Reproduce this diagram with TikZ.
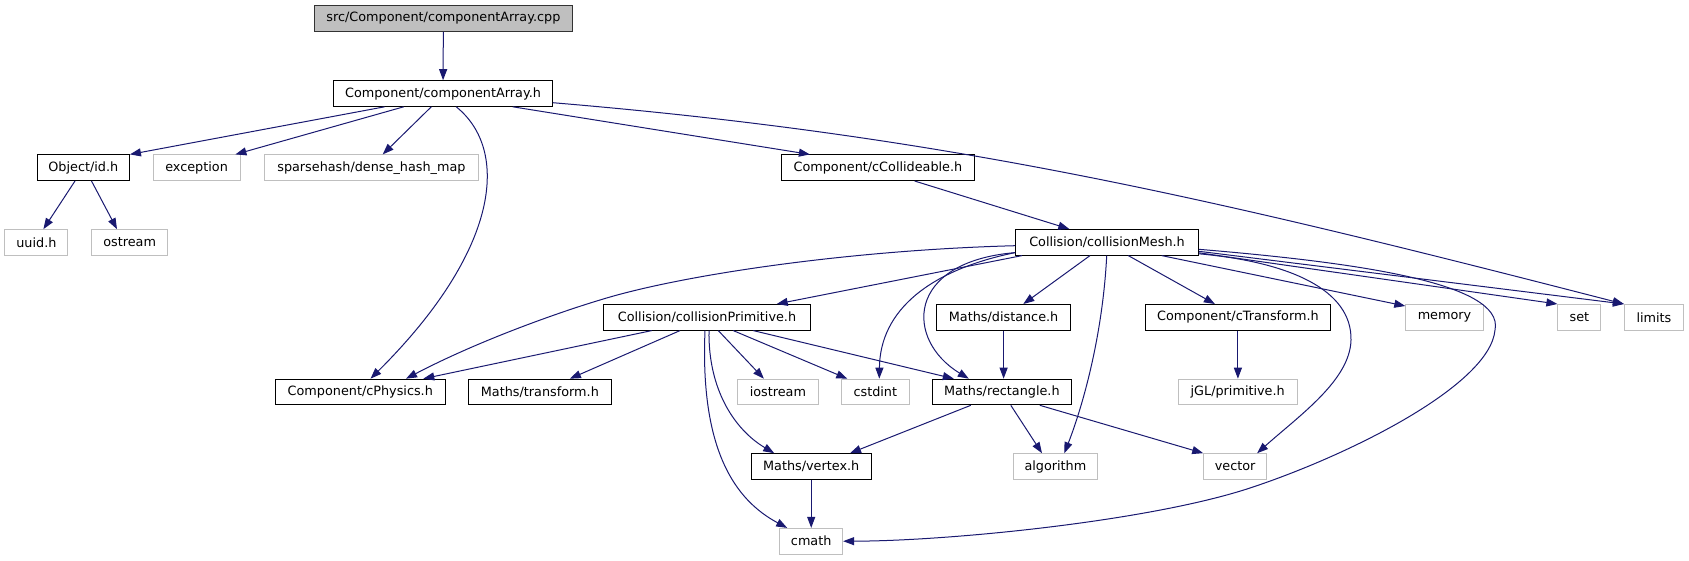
\documentclass[tikz,border=0pt]{standalone}
\usepackage{fontspec}
\setmainfont{DejaVu Sans}
\usepackage{xcolor}
\usetikzlibrary{arrows.meta}
\definecolor{edgeblue}{HTML}{191970}
\definecolor{greyline}{HTML}{BFBFBF}

\begin{document}
\begin{tikzpicture}[x=1pt, y=-1pt,
  every node/.style={font=\fontsize{12.8}{15}\selectfont, minimum height=25.6pt, inner sep=0pt, line width=1pt},
  root/.style={draw=black!80, fill=greyline, minimum width=#1},
  hdr/.style={draw=black, fill=white, minimum width=#1},
  sys/.style={draw=greyline, fill=white, minimum width=#1},
  dep/.style={draw=edgeblue, line width=1pt, -{Triangle[length=11pt, width=8pt]}}]
\useasboundingbox (0,0) rectangle (1689,560);
% Source file and its header
\node[root=257.5] (src) at (443.4,18.5) {src/Component/componentArray.cpp};
\node[hdr=218.5] (carr) at (443,93.5) {Component/componentArray.h};
% Second row
\node[hdr=92.3] (id) at (83.3,167.7) {Object/id.h};
\node[sys=87] (exc) at (196.6,167.7) {exception};
\node[sys=214] (sparse) at (371.4,167.7) {sparsehash/dense\_hash\_map};
\node[hdr=193.7] (ccoll) at (877.9,167.7) {Component/cCollideable.h};
% Third row
\node[sys=63] (uuid) at (36.4,242.5) {uuid.h};
\node[sys=76.4] (ostream) at (129.7,242.5) {ostream};
\node[hdr=182.7] (cmesh) at (1107,242.3) {Collision/collisionMesh.h};
% Fourth row
\node[hdr=207] (cprim) at (707,317.3) {Collision/collisionPrimitive.h};
\node[hdr=134] (dist) at (1003.6,317.3) {Maths/distance.h};
\node[hdr=185.7] (ctrans) at (1237.9,317.3) {Component/cTransform.h};
\node[sys=77.4] (memory) at (1444.5,317.3) {memory};
\node[sys=43] (set) at (1579.4,317.3) {set};
\node[sys=59] (limits) at (1653.9,317.3) {limits};
% Fifth row
\node[hdr=169.7] (cphys) at (360.3,392) {Component/cPhysics.h};
\node[hdr=142.3] (transform) at (539.9,392) {Maths/transform.h};
\node[sys=80.2] (iostream) at (777.9,392) {iostream};
\node[sys=67.4] (cstdint) at (875.3,392) {cstdint};
\node[hdr=138.5] (rect) at (1001.8,392) {Maths/rectangle.h};
\node[sys=118.6] (jgl) at (1237.7,392) {jGL/primitive.h};
% Bottom rows
\node[hdr=120.4] (vertex) at (811.2,466.5) {Maths/vertex.h};
\node[sys=84.8] (algorithm) at (1055.4,466.5) {algorithm};
\node[sys=62.8] (vector) at (1235.1,466.5) {vector};
\node[sys=62.8] (cmath) at (811.2,541.2) {cmath};
% Includes of componentArray
\draw[dep] (src) -- (carr);
\draw[dep] ([xshift=-58.4]carr.south) -- (id.north east);
\draw[dep] ([xshift=-39.3]carr.south) -- ([xshift=38.8]exc.north);
\draw[dep] ([xshift=-11.7]carr.south) -- ([xshift=11.3]sparse.north);
\draw[dep] ([xshift=13.2]carr.south) .. controls (510,150) and (500,250) .. ([xshift=10.2]cphys.north);
\draw[dep] ([xshift=69.8]carr.south) -- ([xshift=-68]ccoll.north);
\draw[dep] ([yshift=-9.2]carr.east) .. controls (952,136) and (1220,200) .. (limits.north west);
\draw[dep] ([xshift=-8.3]id.south) -- ([xshift=7]uuid.north);
\draw[dep] ([xshift=8.2]id.south) -- ([xshift=-12.7]ostream.north);
\draw[dep] ([xshift=36.7]ccoll.south) -- ([xshift=-37.7]cmesh.north);
% Includes of collisionMesh
\draw[dep] ([yshift=-3.4]cmesh.west) .. controls (850,250) and (680,275) .. (600,300)
  .. controls (560,312) and (480,340) .. ([xshift=45.7]cphys.north);
\draw[dep] ([xshift=-85]cmesh.south) -- ([xshift=69.7]cprim.north);
\draw[dep] ([yshift=3]cmesh.south west) .. controls (930,270) and (880,310) .. ([xshift=4]cstdint.north);
\draw[dep] ([yshift=3]cmesh.south west) .. controls (905,262) and (905,340) .. ([xshift=-33]rect.north);
\draw[dep] ([xshift=-17]cmesh.south) -- ([xshift=19.7]dist.north);
\draw[dep] ([xshift=-0.3]cmesh.south) .. controls (1103,330) and (1085,400) .. ([xshift=9]algorithm.north);
\draw[dep] ([xshift=21.3]cmesh.south) -- ([xshift=-23]ctrans.north);
\draw[dep] ([xshift=54.7]cmesh.south) -- ([yshift=-2]memory.north west);
\draw[dep] ([yshift=-10.5]cmesh.east) -- (set.north west);
\draw[dep] ([yshift=-9]cmesh.east) -- (limits.north west);
\draw[dep] ([yshift=-11.5]cmesh.east) .. controls (1290,262) and (1352,290) .. (1351,340)
  .. controls (1350,380) and (1300,415) .. ([xshift=22]vector.north);
\draw[dep] ([yshift=-7]cmesh.east) .. controls (1350,262) and (1505,282) .. (1495,330)
  .. controls (1490,385) and (1350,455) .. (1250,488)
  .. controls (1150,521) and (950,541) .. (cmath.east);
% Includes of collisionPrimitive
\draw[dep] ([xshift=-55.3]cprim.south) -- ([xshift=63]cphys.north);
\draw[dep] ([xshift=-27]cprim.south) -- ([xshift=30]transform.north);
\draw[dep] ([xshift=11.3]cprim.south) -- ([xshift=-14]iostream.north);
\draw[dep] ([xshift=26.3]cprim.south) -- ([xshift=-28]cstdint.north);
\draw[dep] ([xshift=46.3]cprim.south) -- ([xshift=-48]rect.north);
\draw[dep] ([xshift=2]cprim.south) .. controls (708,390) and (735,430) .. ([xshift=-37]vertex.north);
\draw[dep] ([xshift=-2]cprim.south) .. controls (700,450) and (735,500) .. ([xshift=-24]cmath.north);
% Maths headers
\draw[dep] (dist.south) -- (dist.south |- rect.north);
\draw[dep] (ctrans.south) -- (ctrans.south |- jgl.north);
\draw[dep] ([xshift=-31]rect.south) -- ([xshift=38.8]vertex.north);
\draw[dep] ([xshift=9]rect.south) -- ([xshift=-13.4]algorithm.north);
\draw[dep] ([xshift=38]rect.south) -- (vector.north west);
\draw[dep] (vertex) -- (cmath);
\end{tikzpicture}
\end{document}
